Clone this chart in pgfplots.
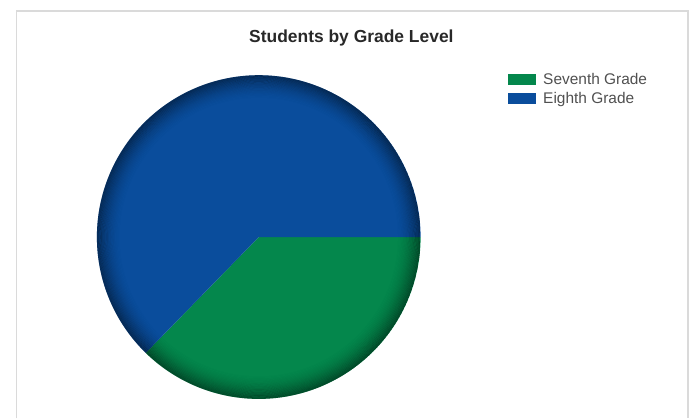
\documentclass[border=0pt]{standalone}
\usepackage{pgfplots}
\pgfplotsset{compat=1.18}
\usepackage{pgfplotstable}
\usepackage{fontspec}
\setmainfont{Liberation Sans}

\definecolor{sevgreen}{RGB}{4,135,76}
\definecolor{eiblue}{RGB}{10,77,156}
\definecolor{titlegray}{RGB}{40,40,40}
\definecolor{legendgray}{RGB}{80,80,80}
\definecolor{framegray}{RGB}{218,218,218}

% share of students (%) per grade
\pgfplotstableread{
grade share
Seventh 37.3
Eighth 62.7
}\gradetable

\begin{document}
\pgfplotstablegetelem{0}{share}\of\gradetable
\let\seventh\pgfplotsretval
\pgfmathsetmacro{\cut}{360-3.6*\seventh}
\begin{tikzpicture}
\useasboundingbox (0,0) rectangle (695pt,420pt);
\draw[framegray, line width=1.5pt] (14pt,0pt) -- (14pt,409pt) -- (688pt,409pt) -- (688pt,0pt);
\node[font=\bfseries\fontsize{17.5}{20}\selectfont, text=titlegray] at (350pt,382pt) {Students by Grade Level};

\begin{axis}[
  at={(257pt,182pt)}, anchor=center,
  scale only axis,
  width=325pt, height=325pt,
  xmin=-1, xmax=1, ymin=-1, ymax=1,
  hide axis, clip=false,
  legend style={
    at={(1.269,1.014)}, anchor=north west,
    draw=none, fill=none, inner sep=0pt,
    font=\fontsize{15.5}{17}\selectfont, text=legendgray,
    cells={anchor=west}, row sep=3pt, column sep=5.5pt,
  },
  legend image code/.code={\fill[#1] (0pt,-5.5pt) rectangle (28pt,5.5pt);},
]
  \addplot[fill=sevgreen, draw=none, domain=\cut:360, samples=150]
    ({cos(x)},{sin(x)}) -- (axis cs:0,0) -- cycle;
  \addlegendentry{Seventh Grade}
  \addplot[fill=eiblue, draw=none, domain=0:\cut, samples=200]
    ({cos(x)},{sin(x)}) -- (axis cs:0,0) -- cycle;
  \addlegendentry{Eighth Grade}
\end{axis}

% darker rim of the pie
\begin{scope}
  \clip (257pt,182pt) circle (162.5pt);
  \foreach \k in {0,...,19} {
    \pgfmathsetmacro{\op}{0.40*(1-\k/20)^1.8}
    \draw[black, opacity=\op, line width=1.3pt] (257pt,182pt) circle ({162.5pt-0.65pt-1.2pt*\k});
  }
\end{scope}
\end{tikzpicture}
\end{document}
